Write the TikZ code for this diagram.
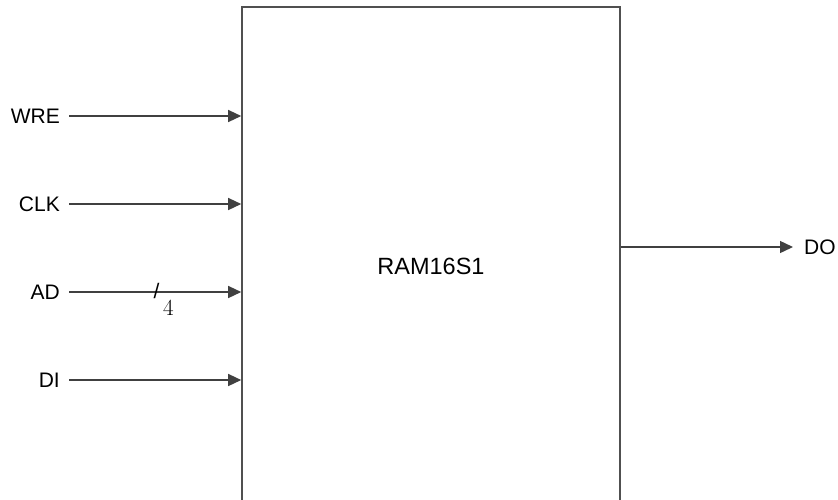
\documentclass[tikz,border=0pt]{standalone}
\usepackage{fontspec}
\setmainfont{Liberation Sans}
\newfontfamily\lmr{Latin Modern Roman}
\usetikzlibrary{arrows.meta}
\definecolor{ln}{HTML}{404040}
\definecolor{bx}{HTML}{505050}
\tikzset{
  sig/.style={draw=ln, line width=1.4pt, -{Triangle[length=13pt,width=12pt]}},
  lbl/.style={font=\fontsize{21}{24}\selectfont, inner sep=0pt, anchor=east},
  blk/.style={draw=bx, line width=1.6pt, rectangle, minimum width=378pt, minimum height=518pt, inner sep=0pt, font=\fontsize{23.5}{27}\selectfont}
}
\begin{document}
\begin{tikzpicture}[x=1pt,y=-1pt]
\useasboundingbox (0,0) rectangle (838,499);
\clip (0,0) rectangle (838,499);
\fill[white] (0,0) rectangle (838,499);
\node[blk] (ram) at (431,266) {RAM16S1};
\node[lbl] (wre) at (60,116) {WRE};
\node[lbl] (clk) at (60,204) {CLK};
\node[lbl] (ad) at (60,292) {AD};
\node[lbl] (di) at (60,380) {DI};
\node[lbl, anchor=west] (do) at (804,247) {DO};
\coordinate (wreE) at (ram.west |- wre.east);
\coordinate (clkE) at (ram.west |- clk.east);
\coordinate (adE) at (ram.west |- ad.east);
\coordinate (diE) at (ram.west |- di.east);
\coordinate (doS) at (ram.east |- do.west);
\draw[sig] ([xshift=9pt]wre.east) -- (wreE);
\draw[sig] ([xshift=9pt]clk.east) -- (clkE);
\draw[sig] ([xshift=9pt]ad.east) -- (adE);
\draw[sig] ([xshift=9pt]di.east) -- (diE);
\draw[sig] (doS) -- ([xshift=-11pt]do.west);
\node[inner sep=0pt, font=\fontsize{21}{24}\selectfont] (slash) at (156.5,291) {/};
\node[inner sep=0pt, font=\lmr\fontsize{23}{26}\selectfont] (four) at (168.5,308) {4};
\end{tikzpicture}
\end{document}
